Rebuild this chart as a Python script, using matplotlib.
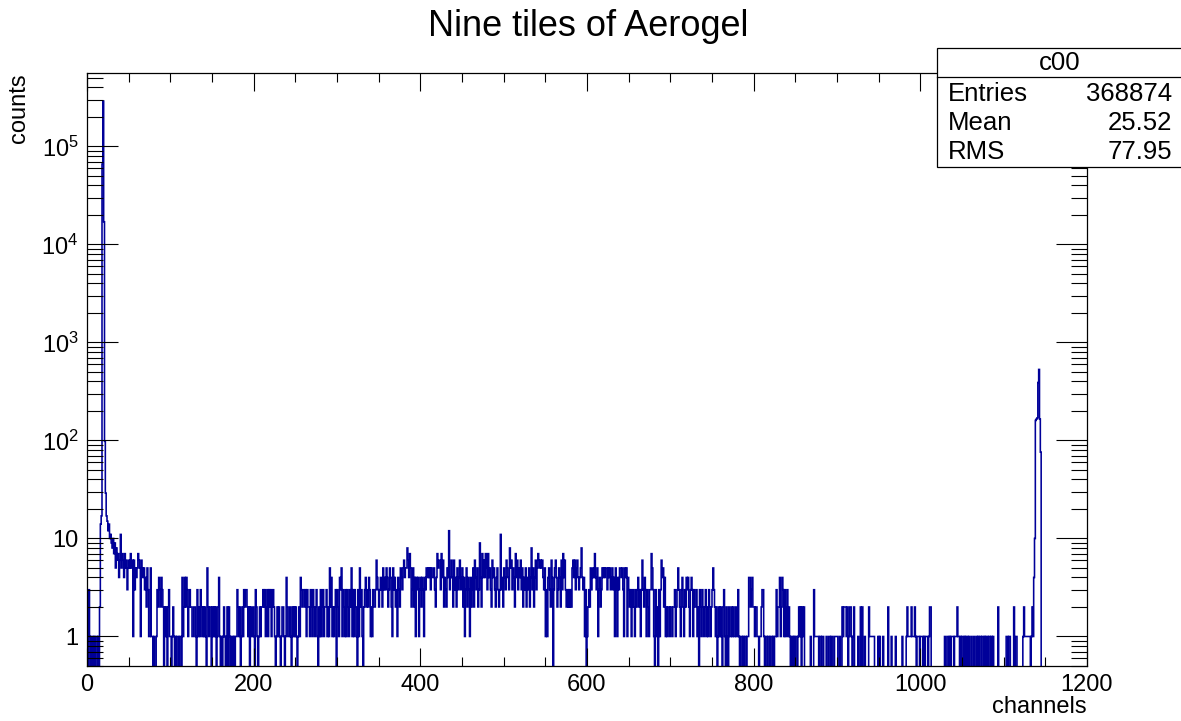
import numpy as np
import matplotlib as mpl
mpl.rcParams['mathtext.default'] = 'regular'
mpl.rcParams['mathtext.fontset'] = 'custom'
mpl.rcParams['mathtext.rm'] = 'Liberation Sans'
mpl.rcParams['font.family'] = ['Liberation Sans', 'DejaVu Sans']
import matplotlib.pyplot as plt
from matplotlib.ticker import MultipleLocator, LogLocator, FuncFormatter, NullFormatter
from matplotlib.patches import Rectangle

# Counts per channel (1 channel per bin).
left_peak = [1, 0, 3, 1, 0, 1, 1, 0, 1, 0,
             1, 1, 0, 1, 0, 2, 14, 17, 66000, 290000,
             17000, 98, 29, 17, 15, 12, 14, 10, 11, 9,
             8, 10, 7, 9, 5, 8, 6, 7, 4, 6,
             11, 5, 7, 6, 4, 7, 5, 6, 3, 5,
             6, 5, 7, 5, 6, 1, 6, 3, 5, 4]

tail_a = [5, 7, 6, 5, 1, 6, 5, 4, 5, 3,
          4, 2, 5, 3, 1, 1, 5, 1, 1, 0,
          1, 0, 0, 1, 3, 2, 4, 3, 2, 4,
          3, 2, 0, 2, 1, 2, 0, 2, 3, 1,
          1, 0, 1, 2, 1, 0, 1, 0, 1, 1,
          0, 1, 1, 0, 4, 1, 2, 4, 2, 4,
          3, 1, 2, 3, 2, 2, 1, 1, 2, 2,
          1, 0, 3, 1, 2, 1, 3, 2, 1, 2,
          1, 2, 1, 0, 5, 2, 1, 2, 2, 0,
          2, 1, 2, 1, 2, 0, 1, 2, 4, 1,
          0, 1, 0, 1, 2, 1, 0, 1, 2, 0,
          2, 1, 0, 1, 1, 0, 1, 0, 1, 1,
          3, 2, 1, 2, 0, 1, 2, 1, 3, 2,
          3, 3, 2, 1, 2, 0, 2, 1, 1, 2,
          1, 0, 3, 2, 1, 0, 1, 2, 1, 2,
          2, 3, 2, 3, 1, 2, 3, 1, 3, 2,
          3, 1, 2, 3, 2, 1, 0, 1, 2, 1,
          2, 1, 0, 1, 2, 2, 1, 0, 1, 4,
          2, 1, 1, 2, 1, 0, 2, 1, 2, 1,
          2, 1, 0, 1, 2, 1, 4, 3, 2, 3,
          3, 2, 3, 1, 3, 2, 2, 1, 3, 2,
          1, 3, 2, 1, 2, 3, 1, 0, 2, 1,
          3, 1, 2, 3, 1, 2, 2, 3, 1, 2,
          1, 5]

mid_a = [2, 4, 1, 2, 1, 2, 3, 0,
         3, 2, 1, 4, 3, 5, 1, 3, 2, 1,
         3, 1, 3, 2, 1, 3, 2, 5, 1, 3,
         1, 3, 2, 1, 0, 3, 1, 5, 2, 3,
         1, 0, 2, 3, 4, 2, 3, 2, 4, 3,
         1, 2, 1, 3, 2, 2, 3, 6, 4, 3,
         2, 3, 4, 3, 2, 5, 3, 4, 3, 5,
         4, 2, 3, 5, 4, 2, 1, 5, 3, 4,
         2, 3, 1, 4, 3, 2, 5, 4, 3, 5,
         6, 4, 5, 5, 8, 6, 4, 7, 5, 2,
         3, 5, 2, 4, 1, 4, 3, 4, 1, 3,
         4, 2, 4, 3, 1, 4, 3, 5, 4, 5,
         4, 5, 3, 5, 4, 4, 5, 3, 2, 4,
         7, 5, 6, 6, 3, 7, 4, 6, 2, 4,
         3, 2, 5, 4, 12, 3, 4, 6, 4, 2,
         6, 3, 4, 2, 5, 3, 4, 6, 3, 4,
         5, 2, 4, 1, 3, 5, 2, 4, 3, 1,
         4, 2, 3, 5, 2, 6, 4, 3, 5, 2,
         3, 9, 4, 2, 7, 4, 6, 4, 7, 5,
         3, 7, 4, 5, 3, 2, 6, 4, 5, 3,
         2, 4, 5, 3, 2, 3, 11, 3, 4, 2,
         5, 4, 3, 6, 5, 4, 3, 8, 5, 6,
         3, 5, 4, 2, 7, 4, 6, 3, 5, 4,
         6, 3, 5, 2, 4, 3, 5, 2, 4, 3,
         5, 2]

mid_b = [4, 8, 3, 5, 2, 4, 6, 3,
         5, 7, 6, 5, 6, 5, 6, 4, 3, 5,
         1, 3, 1, 4, 5, 3, 2, 6, 4, 0,
         3, 5, 6, 4, 2, 3, 5, 4, 2, 6,
         3, 7, 4, 6, 3, 2, 3, 2, 3, 2,
         3, 2, 5, 6, 4, 6, 3, 5, 6, 4,
         3, 4, 5, 8, 4, 3, 4, 1, 3, 0,
         1, 2, 3, 2, 5, 3, 4, 5, 4, 7,
         4, 3, 5, 1, 3, 4, 2, 3, 5, 4,
         5, 4, 5, 5, 3, 5, 4, 5, 3, 4,
         5, 3, 4, 1, 5, 3, 1, 4, 3, 5,
         5, 4, 5, 3, 1, 5, 4, 5, 1, 4,
         3, 2, 3, 1, 2, 3, 2, 1, 3, 2,
         3, 4, 2, 3, 1, 3, 6, 3, 2, 4,
         3, 1, 3, 2, 1, 3, 3, 7, 5, 3,
         1, 0, 3, 1, 2, 0, 3, 1, 3, 6,
         4, 5, 2, 4, 1, 2, 1, 2, 2, 1,
         2, 2, 1, 2, 2, 3, 1, 2, 3, 5,
         3, 2, 1, 3, 4, 2, 1, 3, 2, 4,
         3, 4, 2, 1, 3, 4, 3, 1, 3, 2,
         2, 3, 1, 2, 0, 3, 2, 1, 3, 2,
         1, 2, 3, 1, 2, 1, 3, 2, 1, 2,
         3, 5, 3, 2, 1, 2, 0, 1, 2, 1,
         2, 1, 0, 2, 3, 1, 0, 2, 1, 0,
         2, 1]

tail_b = [1, 2, 1, 2, 1, 1, 2, 1,
          1, 3, 1, 0, 1, 1, 0, 1, 0, 1,
          1, 0, 1, 1, 4, 4, 2, 3, 4, 2,
          2, 1, 2, 2, 1, 1, 0, 1, 1, 2,
          3, 3, 1, 0, 1, 1, 0, 1, 1, 0,
          1, 1, 0, 1, 0, 1, 1, 3, 1, 2,
          2, 4, 1, 2, 4, 3, 1, 3, 1, 2,
          3, 1, 2, 1, 0, 1, 1, 0, 1, 0,
          1, 1, 0, 1, 2, 1, 2, 0, 2, 1,
          2, 0, 0, 0, 0, 0, 0, 0, 1, 0,
          0, 0, 3, 1, 1, 1, 1, 1, 0, 1,
          1, 0, 1, 1, 0, 0, 0, 1, 0, 0,
          1, 1, 0, 1, 1, 0, 0, 1, 1, 1,
          1, 0, 0, 1, 0, 0, 2, 1, 2, 2,
          2, 1, 2, 0, 1, 2, 2, 1, 0, 1,
          2, 0, 0, 0, 0, 1, 0, 0, 2, 0,
          2, 0, 0, 1, 0, 0, 0, 0, 2, 1,
          1, 1, 1, 1, 1, 0, 0, 0, 0, 1,
          0, 1, 0, 0, 0, 1, 0, 0, 0, 0,
          0, 2, 0, 0, 0, 1, 0, 0, 0, 0,
          1, 0, 0, 0, 0, 0, 0, 0, 1, 0,
          0, 0, 0, 1, 2, 1, 1, 1, 1, 2,
          1, 1, 1, 2, 1, 0, 1, 1, 1, 0,
          1, 1, 1, 0, 1, 0, 1, 1, 1, 0,
          1, 2]

tail_c = [2, 0, 0, 0, 0, 0, 0, 0,
          0, 0, 0, 0, 0, 0, 0, 0, 0, 1,
          0, 0, 1, 1, 0, 1, 0, 1, 1, 1,
          0, 1, 1, 1, 2, 1, 1, 0, 1, 0,
          1, 1, 0, 1, 0, 1, 1, 0, 1, 0,
          0, 1, 0, 0, 1, 0, 0, 1, 0, 1,
          0, 1, 1, 0, 1, 1, 0, 1, 0, 1,
          1, 0, 1, 1, 0, 1, 0, 1, 0, 0,
          0, 0, 0, 2, 0, 0, 0, 0, 0, 0,
          0, 0, 0, 1, 1, 0, 1, 1, 0, 0,
          0, 0, 2, 0, 1, 1, 0, 0, 0, 0,
          0, 0, 0, 1, 2, 1, 1, 1, 1, 1,
          1, 1]

right_peak = [1, 2, 1, 4, 10, 160, 165, 170, 390, 530, 165, 76]

blocks = [(0, left_peak), (60, tail_a), (292, mid_a), (532, mid_b),
          (772, tail_b), (1012, tail_c), (1133, right_peak)]

n_bins = 1200
edges = np.arange(n_bins + 1)
counts = np.zeros(n_bins)
for start, block in blocks:
    counts[start:start + len(block)] = block

stats_rows = [('Entries', '368874'), ('Mean', '25.52'), ('RMS', '77.95')]

W, H = 1181, 721
fig = plt.figure(figsize=(W / 100, H / 100), dpi=100)
ax = fig.add_axes([87 / W, 1 - 666 / H, 1000 / W, 593 / H])

line_col = '#000099'
drawn = np.where(counts > 0, counts, 1e-3)
ax.stairs(drawn, edges, color=line_col, lw=1.15, baseline=1e-3)

ax.set_yscale('log')
ax.set_xlim(0, 1200)
ax.set_ylim(0.5, 5.6e5)

ax.xaxis.set_major_locator(MultipleLocator(200))
ax.xaxis.set_minor_locator(MultipleLocator(50))
ax.yaxis.set_major_locator(LogLocator(base=10, numticks=20))
ax.yaxis.set_minor_locator(LogLocator(base=10, subs=np.arange(2, 10), numticks=20))
ax.yaxis.set_minor_formatter(NullFormatter())


def log_label(v, pos):
    if abs(v - 1) < 1e-9:
        return '1'
    if abs(v - 10) < 1e-9:
        return '10'
    return r'$10^{%d}$' % round(np.log10(v))


ax.yaxis.set_major_formatter(FuncFormatter(log_label))

ax.tick_params(which='both', direction='in', top=True, right=True, width=0.8,
               colors='black', labelsize=17)
ax.tick_params(axis='x', which='major', length=13, pad=6)
ax.tick_params(axis='x', which='minor', length=6.5)
ax.tick_params(axis='y', which='major', length=22, pad=6)
ax.tick_params(axis='y', which='minor', length=11.5)
for s in ax.spines.values():
    s.set_linewidth(0.9)

ax.set_xlabel('channels', loc='right', fontsize=17, labelpad=0)
ax.set_ylabel('counts', loc='top', fontsize=17, labelpad=8)

fig.text(588 / W, 1 - 27 / H, 'Nine tiles of Aerogel', ha='center', va='center',
         fontsize=26)

# Statistics box in the top right corner
bx0, by0, by1, bsep = 937, 48, 167, 77
fig.patches.append(Rectangle((bx0 / W, 1 - by1 / H), (W + 5 - bx0) / W, (by1 - by0) / H,
                             transform=fig.transFigure, facecolor='white',
                             edgecolor='black', lw=0.9, zorder=5))
fig.lines.append(plt.Line2D([bx0 / W, 1.0], [1 - bsep / H, 1 - bsep / H],
                            transform=fig.transFigure, color='black', lw=0.9, zorder=6))
fig.text(1060 / W, 1 - 63 / H, 'c00', ha='center', va='center', fontsize=18.5, zorder=7)
for i, (name, val) in enumerate(stats_rows):
    yy = 1 - (94 + 29 * i) / H
    fig.text(948 / W, yy, name, ha='left', va='center', fontsize=18.5, zorder=7)
    fig.text(1172 / W, yy, val, ha='right', va='center', fontsize=18.5, zorder=7)

fig.savefig('out.png', dpi=100)
